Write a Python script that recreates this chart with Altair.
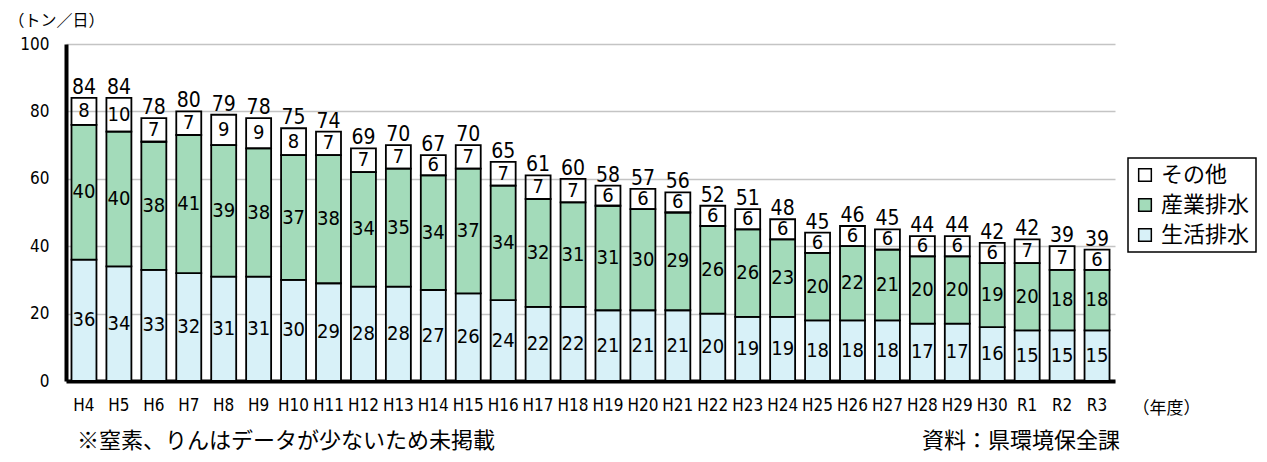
import altair as alt
import pandas as pd

years = ["H4", "H5", "H6", "H7", "H8", "H9", "H10", "H11", "H12", "H13",
         "H14", "H15", "H16", "H17", "H18", "H19", "H20", "H21", "H22", "H23",
         "H24", "H25", "H26", "H27", "H28", "H29", "H30", "R1", "R2", "R3"]
seikatsu = [36, 34, 33, 32, 31, 31, 30, 29, 28, 28, 27, 26, 24, 22, 22, 21, 21, 21, 20, 19,
            19, 18, 18, 18, 17, 17, 16, 15, 15, 15]
sangyo = [40, 40, 38, 41, 39, 38, 37, 38, 34, 35, 34, 37, 34, 32, 31, 31, 30, 29, 26, 26,
          23, 20, 22, 21, 20, 20, 19, 20, 18, 18]
sonota = [8, 10, 7, 7, 9, 9, 8, 7, 7, 7, 6, 7, 7, 7, 7, 6, 6, 6, 6, 6,
          6, 6, 6, 6, 6, 6, 6, 7, 7, 6]
totals = [84, 84, 78, 80, 79, 78, 75, 74, 69, 70, 67, 70, 65, 61, 60, 58, 57, 56, 52, 51,
          48, 45, 46, 45, 44, 44, 42, 42, 39, 39]
series_names = ["生活排水", "産業排水", "その他"]
legend_order = ["その他", "産業排水", "生活排水"]
legend_colors = ["rgba(255,255,255,0)", "#a3dbba", "#d8f1f8"]
y_ticks = [0, 20, 40, 60, 80, 100]
y_title = "（トン／日）"
x_title = "（年度）"
note_left = "※窒素、りんはデータが少ないため未掲載"
note_right = "資料：県環境保全課"

NUM = "DejaVu Sans Condensed, DejaVu Sans, sans-serif"
JP = "Noto Sans CJK JP, sans-serif"

rows = []
for i, yr in enumerate(years):
    for k, (name, vals) in enumerate(zip(series_names, [seikatsu, sangyo, sonota])):
        rows.append({"year": yr, "series": name, "value": vals[i], "ord": k})
df = pd.DataFrame(rows)
tot = pd.DataFrame({
    "year": years,
    "total": totals,
    "top": [a + b + c for a, b, c in zip(seikatsu, sangyo, sonota)],
})

xscale = alt.Scale(paddingInner=0.285, paddingOuter=0.157)
xenc = alt.X(
    "year:N", sort=years, scale=xscale,
    axis=alt.Axis(
        title=x_title, labelAngle=0, grid=False, ticks=False,
        domainColor="black", domainWidth=4, labelPadding=16,
        labelFont=NUM, labelFontSize=17, labelColor="black",
        titleFont=JP, titleFontSize=17, titleFontWeight="normal", titleColor="black",
        titleAlign="left", titleBaseline="middle", titleX=1066, titleY=27,
    ),
)
xplain = alt.X("year:N", sort=years, scale=xscale)

base = (
    alt.Chart(df)
    .transform_stack(stack="value", as_=["lo", "hi"], groupby=["year"],
                     sort=[alt.SortField("ord", order="ascending")])
    .transform_calculate(mid="(datum.lo + datum.hi) / 2")
)

bars = base.mark_bar(stroke="black", strokeWidth=1.8).encode(
    x=xenc,
    y=alt.Y(
        "lo:Q", scale=alt.Scale(domain=[0, 100], nice=False),
        axis=alt.Axis(
            values=y_ticks, title=y_title, titleAngle=0, titleAlign="left",
            titleBaseline="middle", titleX=-58, titleY=-24,
            titleFont=JP, titleFontSize=16, titleFontWeight="normal", titleColor="black",
            domainColor="black", domainWidth=4, ticks=False, labelPadding=17,
            labelFont=NUM, labelFontSize=17, labelColor="black",
            gridColor="#c4c4c4", gridWidth=1.5,
        ),
    ),
    y2="hi:Q",
    color=alt.Color(
        "series:N",
        scale=alt.Scale(domain=legend_order, range=legend_colors),
        legend=alt.Legend(
            title=None, orient="none", legendX=1062, legendY=114,
            symbolType="square", symbolSize=160, symbolStrokeColor="black",
            symbolStrokeWidth=1.5, symbolOpacity=1,
            labelFont=JP, labelFontSize=22, labelColor="black", labelOffset=5,
            rowPadding=8, padding=6, strokeColor="black", fillColor="white",
        ),
    ),
)

labels = base.mark_text(font=NUM, fontSize=20, baseline="middle", color="black").encode(
    x=xplain, y="mid:Q", text="value:Q"
)

tlabels = alt.Chart(tot).mark_text(
    font=NUM, fontSize=21, baseline="alphabetic", dy=-4, color="black"
).encode(x=xplain, y="top:Q", text="total:Q")

notes = alt.Chart(pd.DataFrame({"t": [note_left, note_right], "px": [11, 856]})).mark_text(
    font=JP, fontSize=22, align="left", baseline="middle", color="black"
).encode(x=alt.X("px:Q", scale=None), y=alt.value(397), text="t:N")

chart = (
    alt.layer(bars, labels, tlabels, notes)
    .properties(
        width=1049, height=337,
        autosize=alt.AutoSizeParams(type="none"),
        padding={"left": 58, "top": 36, "right": 144, "bottom": 73},
    )
    .configure_view(stroke=None)
    .configure_legend(strokeWidth=1.5)
)

chart.save("out.html", embed_options={"renderer": "svg", "actions": False})
